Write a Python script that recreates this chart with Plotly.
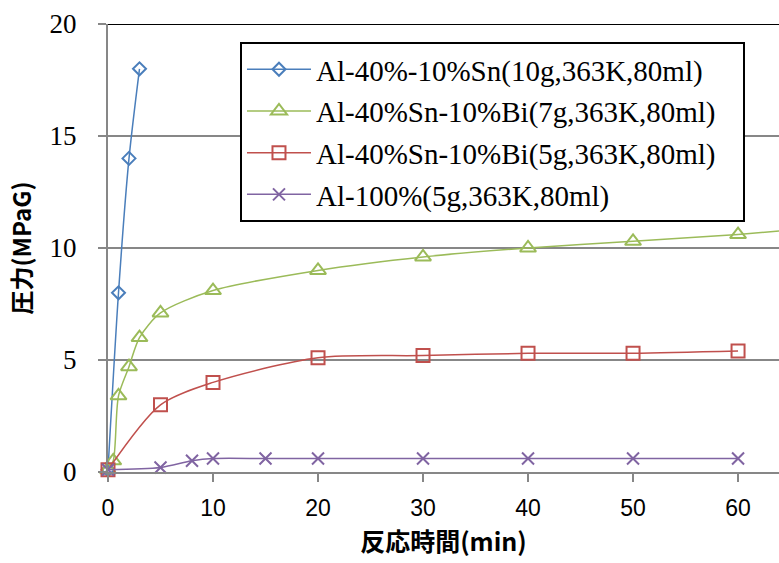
import plotly.graph_objects as go

# Data
names = [
    "Al-40%-10%Sn(10g,363K,80ml)",
    "Al-40%Sn-10%Bi(7g,363K,80ml)",
    "Al-40%Sn-10%Bi(5g,363K,80ml)",
    "Al-100%(5g,363K,80ml)",
]
blue_x = [0, 1, 2, 3]
blue_y = [0.1, 8.0, 14.0, 18.0]
green_x = [0, 0.5, 1, 2, 3, 5, 10, 20, 30, 40, 50, 60]
green_y = [0.1, 0.5, 3.4, 4.7, 6.0, 7.1, 8.1, 9.0, 9.6, 10.0, 10.3, 10.6]
green_ext_x = [60, 70]
green_ext_y = [10.6, 11.0]
red_x = [0, 5, 10, 20, 30, 40, 50, 60]
red_y = [0.1, 3.0, 4.0, 5.1, 5.2, 5.3, 5.3, 5.4]
purple_x = [0, 5, 8, 10, 15, 20, 30, 40, 50, 60]
purple_y = [0.1, 0.2, 0.5, 0.6, 0.6, 0.6, 0.6, 0.6, 0.6, 0.6]
x_ticks = [0, 10, 20, 30, 40, 50, 60]
y_ticks = [0, 5, 10, 15, 20]

colors = ["#4a7ebb", "#9bbb59", "#c0504d", "#8064a2"]
symbols = ["diamond-open", "triangle-up-open", "square-open", "x-thin-open"]
sizes = [10, 14, 13, 12]
series = [(blue_x, blue_y), (green_x, green_y), (red_x, red_y), (purple_x, purple_y)]
pad = "\u00a0\u00a0\u00a0"

fig = go.Figure()
for i, (xs, ys) in enumerate(series):
    fig.add_trace(go.Scatter(
        x=xs, y=ys, name=names[i] + pad, mode="lines+markers",
        line=dict(color=colors[i], width=1.5, shape="spline", smoothing=0.8),
        marker=dict(symbol=symbols[i], size=sizes[i], color=colors[i],
                    line=dict(color=colors[i], width=2)),
        cliponaxis=False, legendgroup=f"g{i}",
    ))
fig.add_trace(go.Scatter(
    x=green_ext_x, y=green_ext_y, mode="lines", showlegend=False,
    line=dict(color=colors[1], width=1.5), hoverinfo="skip",
))

# top border line at y=20
fig.add_shape(type="line", xref="paper", yref="y", x0=0, x1=1, y0=20, y1=20,
              line=dict(color="black", width=2))

fig.update_layout(
    width=779, height=563,
    margin=dict(l=108, r=0, t=24, b=91, autoexpand=False),
    paper_bgcolor="white", plot_bgcolor="white",
    showlegend=True,
    legend=dict(
        x=0.1967, y=0.96, xanchor="left", yanchor="top",
        bgcolor="white", bordercolor="black", borderwidth=2,
        font=dict(family="Liberation Serif", size=29, color="black"),
        tracegroupgap=1, traceorder="grouped", itemwidth=64,
    ),
    xaxis=dict(
        range=[0, 63.9], tickvals=x_ticks, showgrid=False, zeroline=False,
        showline=True, linecolor="#878787", linewidth=2, automargin=False,
        ticks="outside", ticklen=8, tickcolor="#878787", tickwidth=2,
        ticklabelstandoff=6,
        tickfont=dict(family="Liberation Sans", size=23, color="black"),
        title=dict(text="<b>反応時間(min)</b>", standoff=14,
                   font=dict(family="Noto Sans CJK JP", size=25, color="black")),
    ),
    yaxis=dict(
        range=[0, 20], tickvals=y_ticks, showgrid=True, gridcolor="#878787", gridwidth=2,
        zeroline=False, showline=True, linecolor="#878787", linewidth=2, automargin=False,
        ticks="outside", ticklen=8, tickcolor="#878787", tickwidth=2,
        ticklabelstandoff=16,
        tickfont=dict(family="Liberation Serif", size=27, color="black"),
        title=dict(text="<b>圧力(MPaG)</b>", standoff=11,
                   font=dict(family="Noto Sans CJK JP", size=24, color="black")),
    ),
)

fig.write_html("out.html", config={"displayModeBar": False},
               post_script="document.body.style.margin='0px';document.body.style.overflow='hidden';")
